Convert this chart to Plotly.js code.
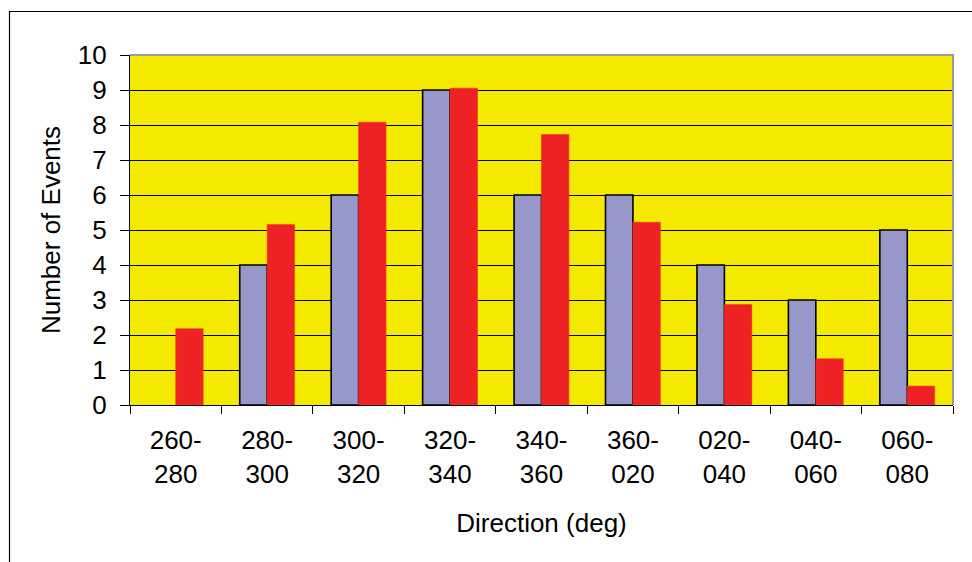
<!DOCTYPE html>
<html>
<head>
<meta charset="utf-8">
<script src="https://cdn.plot.ly/plotly-3.0.1.min.js"></script>
<style>
  html, body { margin: 0; padding: 0; background: #ffffff; }
  #chart { width: 972px; height: 562px; }
</style>
</head>
<body>
<div id="chart"></div>
<script>
// Direction bins (degrees)
const directions = ["260-<br>280", "280-<br>300", "300-<br>320", "320-<br>340", "340-<br>360",
                    "360-<br>020", "020-<br>040", "040-<br>060", "060-<br>080"];
// Observed event counts per bin
const observedEvents = [0, 4, 6, 9, 6, 6, 4, 3, 5];
// Second series per bin
const modelEvents = [2.18, 5.16, 8.08, 9.05, 7.73, 5.22, 2.87, 1.32, 0.54];
// Y-axis ticks
const yTicks = [0, 1, 2, 3, 4, 5, 6, 7, 8, 9, 10];

const W = 972, H = 562;
const M = { l: 130, r: 19, t: 55, b: 157 };
const pw = W - M.l - M.r, ph = H - M.t - M.b;
// pixel -> paper helpers for the outer frame
const px = x => (x - M.l) / pw;
const py = y => (H - M.b - y) / ph;

const font = "'Liberation Sans', Arial, sans-serif";
const FS = 26;

const traces = [
  {
    type: "bar",
    x: directions,
    y: observedEvents,
    marker: {
      color: "#9797C9",
      // no outline on empty bins
      line: { color: "#000000", width: observedEvents.map(v => (v > 0 ? 1.6 : 0)) }
    },
    hoverinfo: "skip"
  },
  {
    type: "bar",
    x: directions,
    y: modelEvents,
    marker: { color: "#EE2225", line: { color: "#F03A1E", width: 0.6 } },
    hoverinfo: "skip"
  }
];

const layout = {
  width: W,
  height: H,
  margin: M,
  paper_bgcolor: "#ffffff",
  plot_bgcolor: "#F4EA00",
  showlegend: false,
  barmode: "group",
  bargap: 0.4,
  bargroupgap: 0,
  font: { family: font, size: FS, color: "#000000" },
  xaxis: {
    type: "category",
    tickson: "boundaries",
    ticks: "outside",
    ticklen: 8,
    tickwidth: 1,
    tickcolor: "#000000",
    ticklabelstandoff: 12,
    showgrid: false,
    showline: true,
    linecolor: "#000000",
    linewidth: 1.2,
    tickfont: { family: font, size: FS, color: "#000000" },
    title: { text: "Direction (deg)", font: { family: font, size: FS, color: "#000000" }, standoff: 25 },
    fixedrange: true
  },
  yaxis: {
    range: [0, 10],
    tickvals: yTicks,
    ticktext: yTicks.map(String),
    ticks: "outside",
    ticklen: 9,
    tickwidth: 1,
    tickcolor: "#000000",
    ticklabelstandoff: 8,
    showgrid: true,
    gridcolor: "#000000",
    gridwidth: 1,
    zeroline: false,
    showline: true,
    linecolor: "#000000",
    linewidth: 1.2,
    tickfont: { family: font, size: FS, color: "#000000" },
    title: { text: "Number of Events", font: { family: font, size: FS, color: "#000000" }, standoff: 9 },
    fixedrange: true
  },
  shapes: [
    // grey top and right edges of the plotting area
    {
      type: "path", xref: "paper", yref: "paper", layer: "above",
      path: "M 0 1 L 1 1 L 1 0",
      line: { color: "#9A9A9A", width: 2 }
    },
    // outer chart frame (top and left edges)
    {
      type: "path", xref: "paper", yref: "paper", layer: "above",
      path: `M ${px(9.5)} ${py(H + 5)} L ${px(9.5)} ${py(11.5)} L ${px(W + 5)} ${py(11.5)}`,
      line: { color: "#000000", width: 1.2 }
    }
  ]
};

Plotly.newPlot("chart", traces, layout, { staticPlot: true, displayModeBar: false });
</script>
</body>
</html>
